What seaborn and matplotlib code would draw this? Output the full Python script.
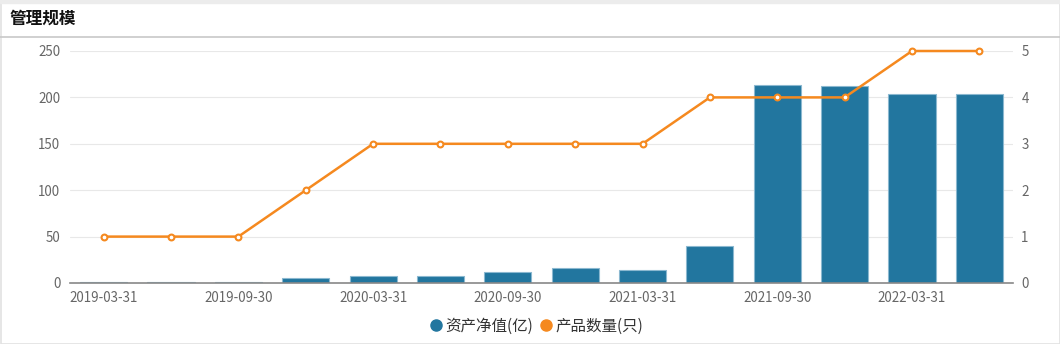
import matplotlib
matplotlib.use("Agg")
import matplotlib.pyplot as plt
from matplotlib.lines import Line2D
from matplotlib.patches import Rectangle
import seaborn as sns
import numpy as np
import pandas as pd

dates = ["2019-03-31", "2019-06-30", "2019-09-30", "2019-12-31",
         "2020-03-31", "2020-06-30", "2020-09-30", "2020-12-31",
         "2021-03-31", "2021-06-30", "2021-09-30", "2021-12-31",
         "2022-03-31", "2022-06-30"]
net_assets = [1.0, 0.8, 0.8, 5.4, 7.2, 7.9, 12.2, 16.5, 14.0, 39.5, 213.0, 212.0, 204.0, 204.0]
product_count = [1, 1, 1, 2, 3, 3, 3, 3, 3, 4, 4, 4, 5, 5]
left_ticks = [0, 50, 100, 150, 200, 250]
right_ticks = [0, 1, 2, 3, 4, 5]
series_names = ["资产净值(亿)", "产品数量(只)"]
title = "管理规模"

bar_color = "#22769f"
bar_edge = "#8bb8d0"
line_color = "#f5891f"
text_color = "#666666"

sns.set_style("white")
plt.rcParams["font.family"] = ["Noto Sans CJK SC", "DejaVu Sans"]

df = pd.DataFrame({"date": dates, "net": net_assets, "count": product_count})

fig = plt.figure(figsize=(10.6, 3.44), dpi=100)
W, H = 1060, 344
ax = fig.add_axes([70 / W, (H - 283) / H, (1013 - 70) / W, (283 - 51) / H])

sns.barplot(data=df, x="date", y="net", ax=ax, color=bar_color, width=0.7,
            edgecolor=bar_edge, linewidth=0.8, saturation=1, zorder=2)
ax2 = ax.twinx()
sns.pointplot(data=df, x="date", y="count", ax=ax2, color=line_color,
              markers="o", linewidth=1.8, markersize=4.2,
              markerfacecolor="white", markeredgewidth=1.5, zorder=3, clip_on=False)

n = len(dates)
ax.set_xlim(-0.5, n - 0.5)
ax2.set_xlim(-0.5, n - 0.5)
ax.set_ylim(0, 250)
ax2.set_ylim(0, 5)
ax.set_yticks(left_ticks)
ax2.set_yticks(right_ticks)
ax.set_xlabel("")
ax.set_ylabel("")
ax2.set_xlabel("")
ax2.set_ylabel("")

# x ticks: marks at category boundaries, labels at every other category
bounds = np.arange(-0.5, n - 0.5 + 0.01, 2)
ax.set_xticks(bounds)
ax.set_xticklabels([""] * len(bounds))
ax.set_xticks(np.arange(0, n, 2), minor=True)
ax.set_xticklabels([dates[i] for i in range(0, n, 2)], minor=True)
ax.tick_params(axis="x", which="major", length=5, width=1, color="#888888", direction="out")
ax.tick_params(axis="x", which="minor", length=0, pad=6, labelsize=9.6, labelcolor=text_color)
ax.tick_params(axis="y", length=0, pad=7, labelsize=9.6, labelcolor=text_color)
ax2.tick_params(axis="y", length=0, pad=6, labelsize=9.6, labelcolor=text_color)

ax.yaxis.grid(True, color="#e8e8e8", linewidth=0.8)
ax.set_axisbelow(True)
for a in (ax, ax2):
    for s in ("top", "left", "right"):
        a.spines[s].set_visible(False)
    a.spines["bottom"].set_color("#888888")
    a.spines["bottom"].set_linewidth(1.2)
ax2.spines["bottom"].set_visible(False)

# title, separator and frame
fig.text(10 / W, 1 - 19 / H, title, fontsize=12, fontweight="bold",
         color="#111111", va="center", ha="left")
fig.add_artist(Line2D([0, 1], [1 - 37 / H, 1 - 37 / H], color="#c8c8c8", linewidth=1.2,
                      transform=fig.transFigure))
fig.add_artist(Rectangle((0.5 / W, 0.5 / H), 1 - 1.0 / W, 1 - 3 / H, fill=False,
                         edgecolor="#e2e2e2", linewidth=1.2, transform=fig.transFigure))
fig.add_artist(Rectangle((0, 1 - 2.5 / H), 1, 2.5 / H, color="#ececec",
                         transform=fig.transFigure))

handles = [
    Line2D([], [], marker="o", linestyle="none", markersize=8,
           markerfacecolor=bar_color, markeredgecolor=bar_color),
    Line2D([], [], marker="o", linestyle="none", markersize=8,
           markerfacecolor=line_color, markeredgecolor=line_color),
]
fig.legend(handles, series_names, loc="center", bbox_to_anchor=(535 / W, 1 - 326 / H),
           ncol=2, frameon=False, fontsize=11.2, handletextpad=0.0, columnspacing=0.2,
           handlelength=1.2, labelcolor="#333333")

fig.savefig("out.png", dpi=100)
